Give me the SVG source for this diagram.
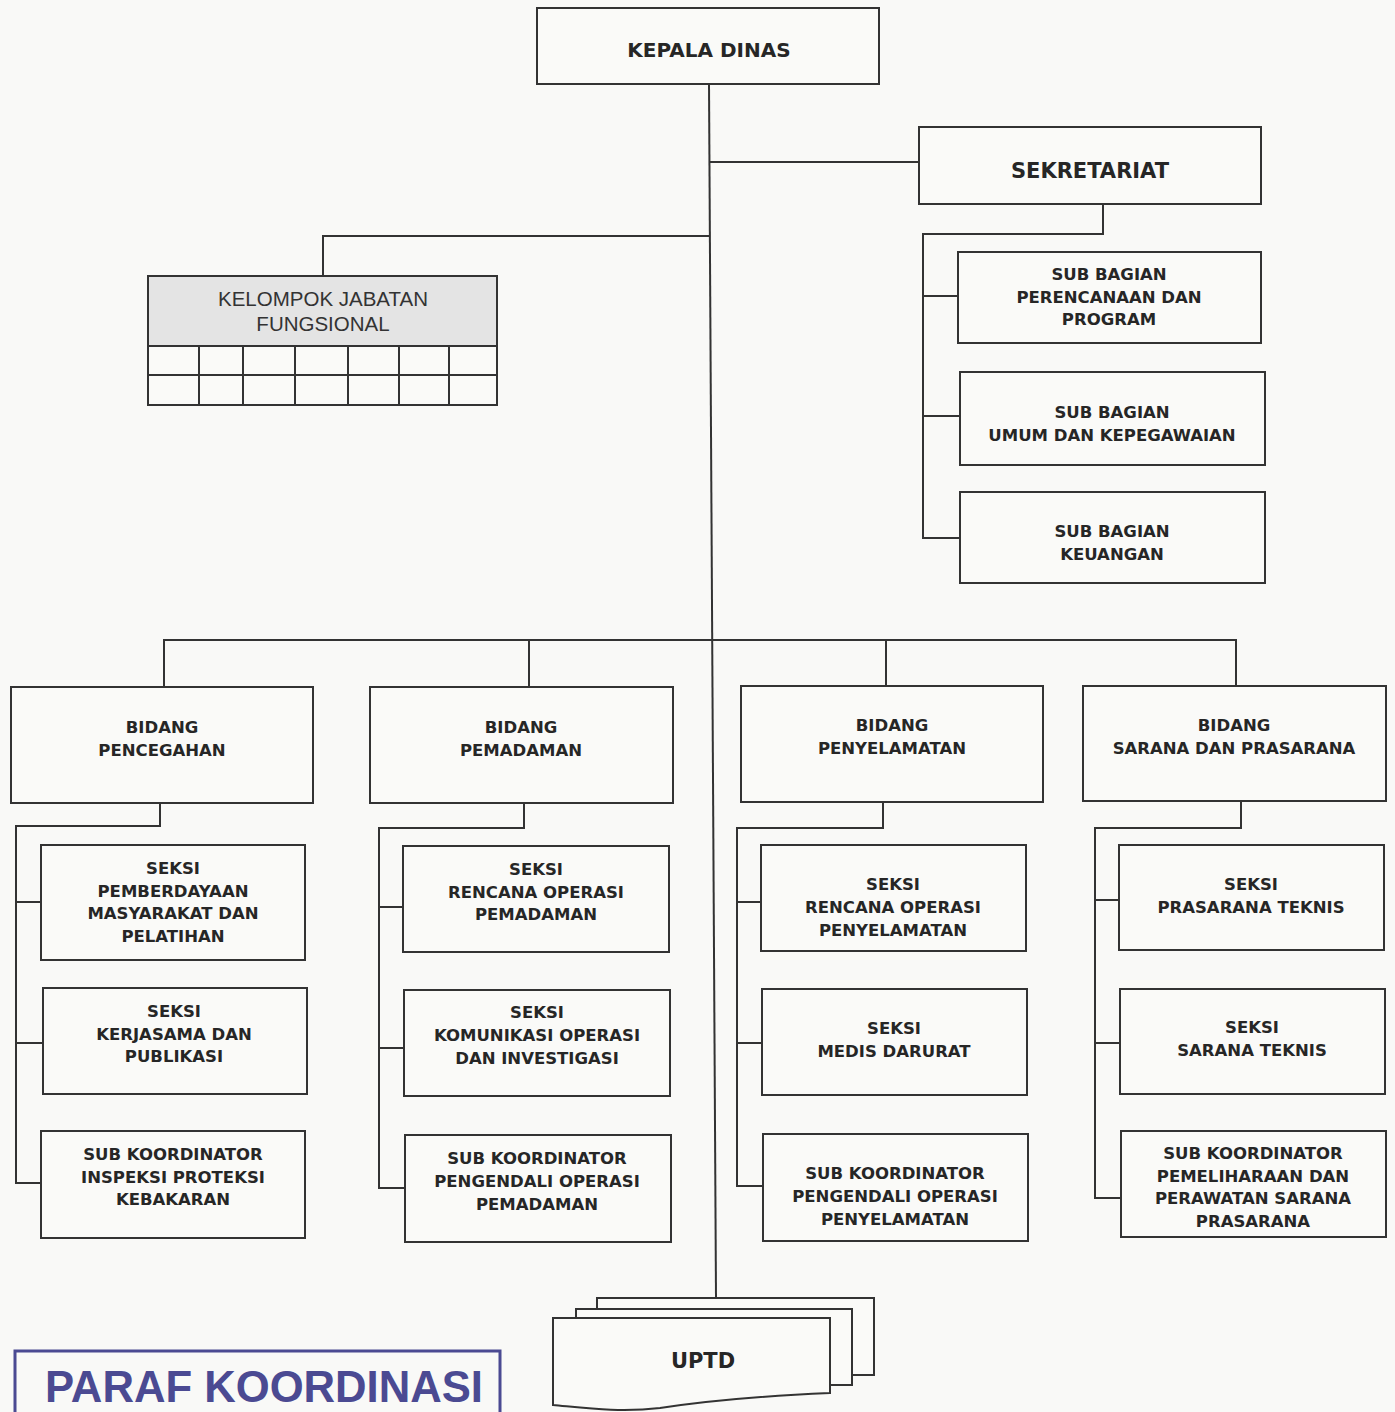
<svg xmlns="http://www.w3.org/2000/svg" width="1395" height="1412" viewBox="0 0 1395 1412">
<style>
.bx{fill:#fafaf8;stroke:#333;stroke-width:2}
.ln{fill:none;stroke:#333;stroke-width:2}
.t{font-family:"DejaVu Sans",Verdana,sans-serif;font-weight:bold;font-size:16.5px;fill:#262626;text-anchor:middle}
.big{font-size:21px}
.kjf{font-family:"Liberation Sans",Arial,sans-serif;font-size:20.5px;fill:#333;text-anchor:middle}
</style>
<rect width="1395" height="1412" fill="#f9f9f7"/>
<g id="connectors" class="ln">
<path d="M709 84 L716 1298"/>
<path d="M710 162 H919"/>
<path d="M710 236 H323 V276"/>
<path d="M1103 204 V234 H923 V538 H960 M923 296 H958 M923 416 H960"/>
<path d="M164 687 V640 H1236 V686 M529 640 V687 M886 640 V686"/>
<path d="M160 803 V826 H16 V1183 H41 M16 902 H41 M16 1043 H43"/>
<path d="M524 803 V828 H379 V1188 H405 M379 907 H403 M379 1048 H404"/>
<path d="M883 802 V828 H737 V1186 H763 M737 902 H761 M737 1043 H762"/>
<path d="M1241 801 V828 H1095 V1198 H1121 M1095 900 H1119 M1095 1043 H1120"/>
</g>
<g id="kepala"><rect class="bx" x="537" y="8" width="342" height="76"/><text class="t" x="709" y="57" style="font-size:20px">KEPALA DINAS</text></g>
<g id="sekretariat"><rect class="bx" x="919" y="127" width="342" height="77"/><text class="t big" x="1090" y="178">SEKRETARIAT</text></g>
<g id="sub1"><rect class="bx" x="958" y="252" width="303" height="91"/><text class="t" x="1109" y="280">SUB BAGIAN<tspan x="1109" dy="22.5">PERENCANAAN DAN</tspan><tspan x="1109" dy="22.5">PROGRAM</tspan></text></g>
<g id="sub2"><rect class="bx" x="960" y="372" width="305" height="93"/><text class="t" x="1112" y="418">SUB BAGIAN<tspan x="1112" dy="23">UMUM DAN KEPEGAWAIAN</tspan></text></g>
<g id="sub3"><rect class="bx" x="960" y="492" width="305" height="91"/><text class="t" x="1112" y="537">SUB BAGIAN<tspan x="1112" dy="23">KEUANGAN</tspan></text></g>
<g id="kjf">
<rect x="148" y="276" width="349" height="70" fill="#e4e4e4" stroke="#333" stroke-width="2"/>
<rect x="148" y="346" width="349" height="59" fill="#fafaf8" stroke="#333" stroke-width="2"/>
<path class="ln" d="M148 375 H497 M199 346 V405 M243 346 V405 M295 346 V405 M348 346 V405 M399 346 V405 M449 346 V405"/>
<text class="kjf" x="323" y="306">KELOMPOK JABATAN<tspan x="323" dy="25">FUNGSIONAL</tspan></text>
</g>
<g id="bidang-pencegahan"><rect class="bx" x="11" y="687" width="302" height="116"/><text class="t" x="162" y="733">BIDANG<tspan x="162" dy="23">PENCEGAHAN</tspan></text></g>
<g id="bidang-pemadaman"><rect class="bx" x="370" y="687" width="303" height="116"/><text class="t" x="521" y="733">BIDANG<tspan x="521" dy="23">PEMADAMAN</tspan></text></g>
<g id="bidang-penyelamatan"><rect class="bx" x="741" y="686" width="302" height="116"/><text class="t" x="892" y="731">BIDANG<tspan x="892" dy="23">PENYELAMATAN</tspan></text></g>
<g id="bidang-sarana"><rect class="bx" x="1083" y="686" width="303" height="115"/><text class="t" x="1234" y="731">BIDANG<tspan x="1234" dy="23">SARANA DAN PRASARANA</tspan></text></g>
<g id="pc1"><rect class="bx" x="41" y="845" width="264" height="115"/><text class="t" x="173" y="874">SEKSI<tspan x="173" dy="22.7">PEMBERDAYAAN</tspan><tspan x="173" dy="22.7">MASYARAKAT DAN</tspan><tspan x="173" dy="22.7">PELATIHAN</tspan></text></g>
<g id="pc2"><rect class="bx" x="43" y="988" width="264" height="106"/><text class="t" x="174" y="1017">SEKSI<tspan x="174" dy="22.5">KERJASAMA DAN</tspan><tspan x="174" dy="22.5">PUBLIKASI</tspan></text></g>
<g id="pc3"><rect class="bx" x="41" y="1131" width="264" height="107"/><text class="t" x="173" y="1160">SUB KOORDINATOR<tspan x="173" dy="22.5">INSPEKSI PROTEKSI</tspan><tspan x="173" dy="22.5">KEBAKARAN</tspan></text></g>
<g id="pm1"><rect class="bx" x="403" y="846" width="266" height="106"/><text class="t" x="536" y="875">SEKSI<tspan x="536" dy="22.7">RENCANA OPERASI</tspan><tspan x="536" dy="22.7">PEMADAMAN</tspan></text></g>
<g id="pm2"><rect class="bx" x="404" y="990" width="266" height="106"/><text class="t" x="537" y="1018">SEKSI<tspan x="537" dy="23">KOMUNIKASI OPERASI</tspan><tspan x="537" dy="23">DAN INVESTIGASI</tspan></text></g>
<g id="pm3"><rect class="bx" x="405" y="1135" width="266" height="107"/><text class="t" x="537" y="1164">SUB KOORDINATOR<tspan x="537" dy="23">PENGENDALI OPERASI</tspan><tspan x="537" dy="23">PEMADAMAN</tspan></text></g>
<g id="py1"><rect class="bx" x="761" y="845" width="265" height="106"/><text class="t" x="893" y="890">SEKSI<tspan x="893" dy="23">RENCANA OPERASI</tspan><tspan x="893" dy="23">PENYELAMATAN</tspan></text></g>
<g id="py2"><rect class="bx" x="762" y="989" width="265" height="106"/><text class="t" x="894" y="1034">SEKSI<tspan x="894" dy="22.5">MEDIS DARURAT</tspan></text></g>
<g id="py3"><rect class="bx" x="763" y="1134" width="265" height="107"/><text class="t" x="895" y="1179">SUB KOORDINATOR<tspan x="895" dy="23">PENGENDALI OPERASI</tspan><tspan x="895" dy="23">PENYELAMATAN</tspan></text></g>
<g id="sr1"><rect class="bx" x="1119" y="845" width="265" height="105"/><text class="t" x="1251" y="890">SEKSI<tspan x="1251" dy="23">PRASARANA TEKNIS</tspan></text></g>
<g id="sr2"><rect class="bx" x="1120" y="989" width="265" height="105"/><text class="t" x="1252" y="1033">SEKSI<tspan x="1252" dy="23">SARANA TEKNIS</tspan></text></g>
<g id="sr3"><rect class="bx" x="1121" y="1131" width="265" height="106"/><text class="t" x="1253" y="1159">SUB KOORDINATOR<tspan x="1253" dy="22.7">PEMELIHARAAN DAN</tspan><tspan x="1253" dy="22.7">PERAWATAN SARANA</tspan><tspan x="1253" dy="22.7">PRASARANA</tspan></text></g>
<g id="uptd">
<rect class="bx" x="597" y="1298" width="277" height="77"/>
<rect class="bx" x="576" y="1309" width="276" height="76"/>
<path class="bx" d="M553 1318 H830 V1393 C760 1396 700 1402 660 1408 C620 1413 585 1408 553 1405 Z"/>
<text class="t big" x="703" y="1368">UPTD</text>
</g>
<g id="paraf">
<rect x="15" y="1351" width="485" height="70" fill="none" stroke="#4b4a92" stroke-width="3"/>
<text x="264" y="1402" font-family="'Liberation Sans',Arial,sans-serif" font-weight="bold" font-size="45" fill="#4b4a92" text-anchor="middle" textLength="438" lengthAdjust="spacingAndGlyphs">PARAF KOORDINASI</text>
</g>
</svg>
